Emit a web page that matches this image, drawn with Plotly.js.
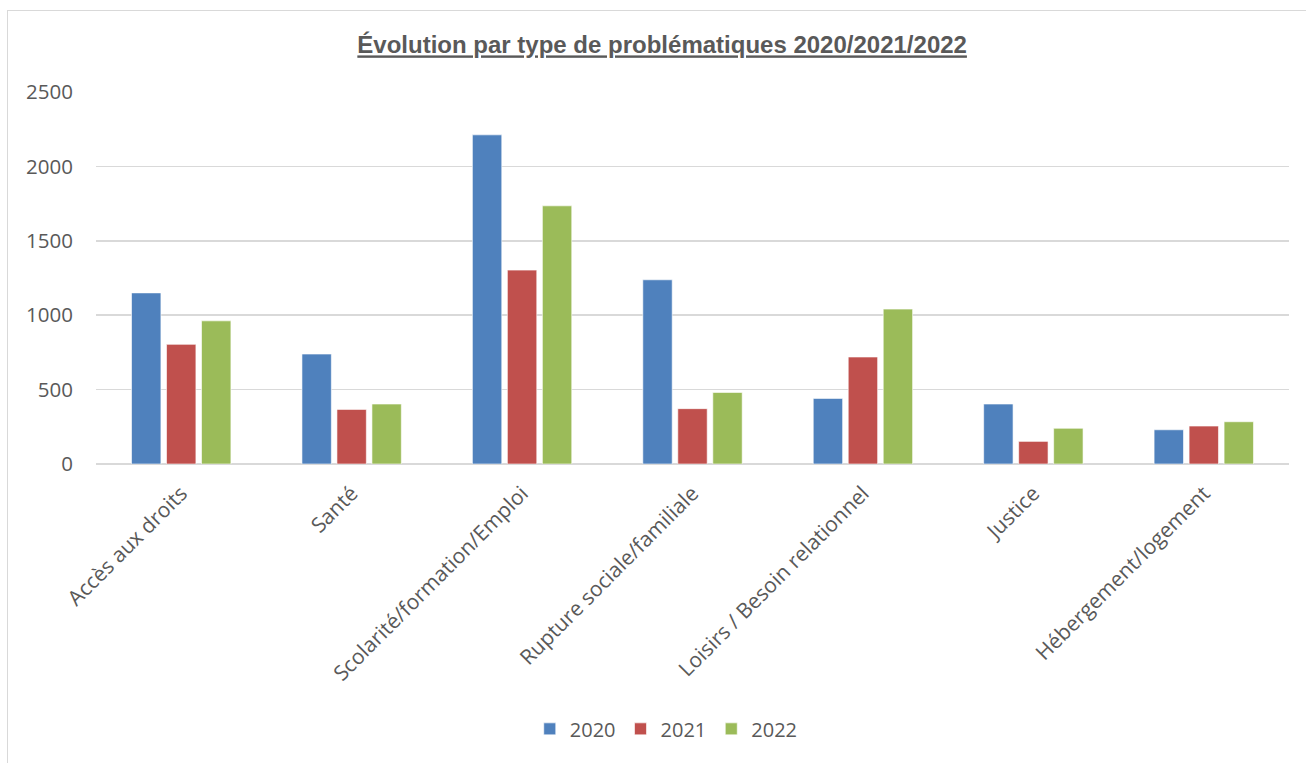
<!DOCTYPE html>
<html>
<head>
<meta charset="utf-8">
<script src="https://cdn.plot.ly/plotly-3.0.1.min.js"></script>
<style>
  html, body { margin: 0; padding: 0; background: #ffffff; overflow: hidden; }
  #chart { position: absolute; left: 0; top: 0; width: 1306px; height: 763px; }
  #frame { position: absolute; left: 7px; top: 10px; width: 1320px; height: 770px;
           border: 1.5px solid #d9d9d9; pointer-events: none; }
</style>
</head>
<body>
<div id="chart"></div>
<div id="frame"></div>
<script>
const categories = [
  "Accès aux droits",
  "Santé",
  "Scolarité/formation/Emploi",
  "Rupture sociale/familiale",
  "Loisirs / Besoin relationnel",
  "Justice",
  "Hébergement/logement"
];
const values2020 = [1150, 739, 2212, 1238, 441, 403, 230];
const values2021 = [804, 367, 1303, 372, 719, 152, 255];
const values2022 = [962, 403, 1735, 481, 1041, 240, 284];
const seriesNames = ["2020", "2021", "2022"];
const seriesColors = ["#4f81bd", "#c0504d", "#9bbb59"];
const yTicks = [0, 500, 1000, 1500, 2000, 2500];

const allValues = [values2020, values2021, values2022];
const traces = allValues.map((vals, i) => ({
  type: "bar",
  name: seriesNames[i],
  x: categories,
  y: vals,
  marker: { color: seriesColors[i], line: { color: "rgba(255,255,255,0.6)", width: 1 } },
  hoverinfo: "x+y+name"
}));

const textColor = "#595959";
const layout = {
  width: 1306,
  height: 763,
  paper_bgcolor: "rgba(0,0,0,0)",
  plot_bgcolor: "rgba(0,0,0,0)",
  margin: { l: 96, r: 17, t: 92, b: 299 },
  barmode: "group",
  bargap: 0.384,
  bargroupgap: 0.16,
  title: {
    text: "<b><u>Évolution par type de problématiques 2020/2021/2022</u></b>",
    font: { family: "Liberation Sans, Arial, sans-serif", size: 24, color: "#595959" },
    x: 0.507, xref: "container", xanchor: "center",
    y: 0.941, yref: "container", yanchor: "middle"
  },
  font: { family: "Open Sans, sans-serif", color: textColor },
  xaxis: {
    type: "category",
    tickangle: -45,
    tickfont: { family: "Open Sans, sans-serif", size: 21, color: textColor },
    showgrid: false,
    showline: false,
    ticks: "",
    zeroline: false,
    ticklabelstandoff: 12
  },
  yaxis: {
    range: [0, 2500],
    tickvals: yTicks,
    ticktext: yTicks.map(String),
    tickfont: { family: "Open Sans, sans-serif", size: 20.5, color: textColor },
    showgrid: true,
    gridcolor: "#d9d9d9",
    gridwidth: 1.5,
    zeroline: true,
    zerolinecolor: "#d9d9d9",
    zerolinewidth: 1.5,
    showline: false,
    ticks: "",
    ticklabelstandoff: 22
  },
  showlegend: true,
  legend: {
    orientation: "h",
    x: 0.478, xanchor: "center",
    y: -0.712, yanchor: "middle",
    font: { family: "Open Sans, sans-serif", size: 20, color: textColor },
    itemwidth: 30,
    traceorder: "normal"
  }
};

Plotly.newPlot("chart", traces, layout, { displayModeBar: false, staticPlot: true });
</script>
</body>
</html>
